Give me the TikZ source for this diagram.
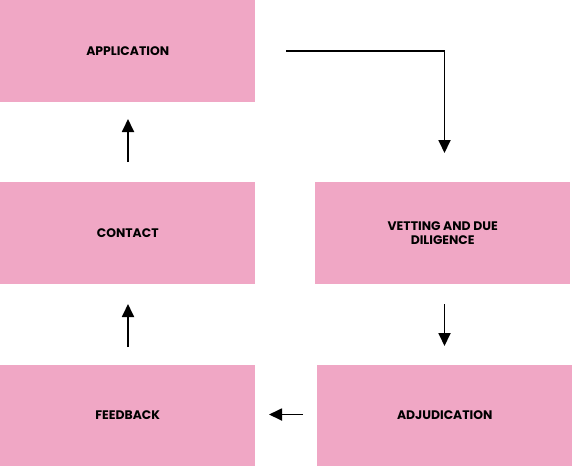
\documentclass[tikz,border=0pt]{standalone}
\usepackage{fontspec}
\setmainfont{Poppins}
\usetikzlibrary{arrows.meta}
\definecolor{boxpink}{HTML}{F0A7C5}
\begin{document}
\begin{tikzpicture}[x=1pt,y=-1pt,
  stage/.style={fill=boxpink,draw=none,minimum width=255pt,minimum height=101.5pt,inner sep=0pt,anchor=north west,
    font=\fontsize{12.4}{14}\selectfont\bfseries,text=black,align=center},
  flow/.style={draw=black,line width=1.8pt,-{Triangle[length=13pt,width=12pt]}}]
\useasboundingbox (0,0) rectangle (572,466);
\node[stage] (app) at (0,0) {APPLICATION};
\node[stage] (con) at (0,182) {CONTACT};
\node[stage] (vet) at (315,182) {VETTING AND DUE\\DILIGENCE};
\node[stage] (fee) at (0,364.5) {FEEDBACK};
\node[stage] (adj) at (317,364.5) {ADJUDICATION};
\coordinate (a1) at (286,51);
\coordinate (a2) at (444.5,51);
\coordinate (a3) at (444.5,153);
\coordinate (b1) at (444.5,304);
\coordinate (b2) at (444.5,346);
\coordinate (c1) at (303,414.5);
\coordinate (c2) at (269,414.5);
\coordinate (d1) at (128,347);
\coordinate (d2) at (128,304);
\coordinate (e1) at (128,162);
\coordinate (e2) at (128,119);
\draw[flow] (a1) -- (a2) -- (a3);
\draw[flow] (b1) -- (b2);
\draw[flow] (c1) -- (c2);
\draw[flow] (d1) -- (d2);
\draw[flow] (e1) -- (e2);
\end{tikzpicture}
\end{document}
